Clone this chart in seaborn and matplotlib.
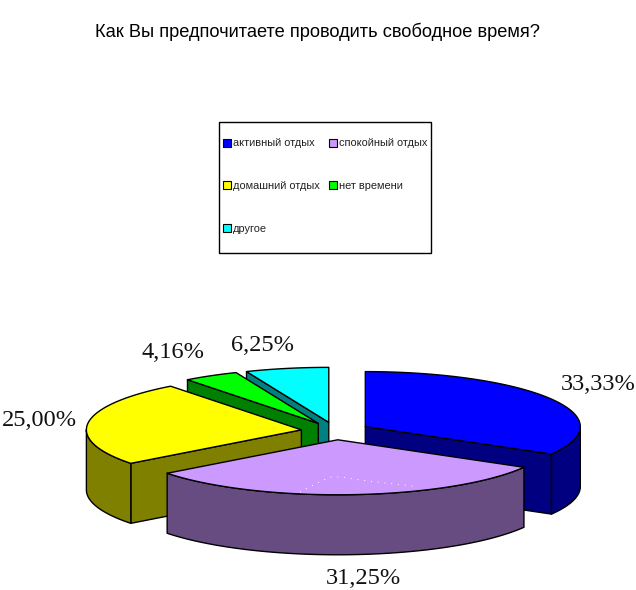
import numpy as np
import matplotlib
matplotlib.use("Agg")
import matplotlib.pyplot as plt
from matplotlib.patches import Patch, Polygon, Rectangle
import seaborn as sns

title = "Как Вы предпочитаете проводить свободное время?"
categories = ["активный отдых", "спокойный отдых", "домашний отдых", "нет времени", "другое"]
values = [33.33, 31.25, 25.00, 4.16, 6.25]
top_colors = ["#0000FF", "#CC99FF", "#FFFF00", "#00FF00", "#00FFFF"]
side_colors = ["#000080", "#664C80", "#808000", "#008000", "#008080"]

# pie layout in pixels
CX, CY = 335.5, 431
RX, RY = 215, 55
DEPTH = 60
EXPLODE = 0.16
# label centres, same order as categories
label_pos = [(598.5, 384), (363.5, 578), (39.5, 420), (172.5, 352.5), (262.5, 345.5)]
draw_order = [4, 3, 2, 0, 1]
# faint dotted trace left on the purple slice in the original
trace_x = [300, 315, 330, 343, 360, 377, 395, 413]
trace_y = [492, 484, 477, 477, 480, 482, 484, 486]


def rim(cx, cy, a, b, dy=0):
    t = np.radians(np.linspace(a, b, max(int(abs(b - a)) * 2, 2)))
    return np.column_stack([cx + RX * np.sin(t), cy - RY * np.cos(t) + dy])


def draw_slice(ax, start, end, top, side):
    mid = np.radians((start + end) / 2)
    cx = CX + EXPLODE * RX * np.sin(mid)
    cy = CY - EXPLODE * RY * np.cos(mid)
    kw = dict(edgecolor="black", linewidth=1, joinstyle="round")

    # radial walls facing the viewer
    for ang, visible in [(start, np.sin(np.radians(start)) < -1e-6), (end, np.sin(np.radians(end)) > 1e-6)]:
        if visible:
            p = rim(cx, cy, ang, ang)[0]
            wall = [(cx, cy), p, (p[0], p[1] + DEPTH), (cx, cy + DEPTH)]
            ax.add_patch(Polygon(wall, facecolor=side, **kw))

    # outer wall, front half only
    a, b = max(start, 90), min(end, 270)
    if b > a:
        upper = rim(cx, cy, a, b)
        lower = rim(cx, cy, a, b, DEPTH)[::-1]
        ax.add_patch(Polygon(np.vstack([upper, lower]), facecolor=side, **kw))

    pts = np.vstack([[(cx, cy)], rim(cx, cy, start, end)])
    ax.add_patch(Polygon(pts, facecolor=top, **kw))


sns.set_theme(style="white")
plt.rcParams["font.family"] = ["Liberation Sans", "DejaVu Sans"]

fig = plt.figure(figsize=(6.36, 5.9), dpi=100)
ax = fig.add_axes([0, 0, 1, 1])
ax.set_xlim(0, 636)
ax.set_ylim(590, 0)
ax.axis("off")

shares = np.array(values) / sum(values) * 360
edges = np.concatenate([[0], np.cumsum(shares)])
palette = sns.color_palette(top_colors)
side_palette = sns.color_palette(side_colors)

for i in draw_order:
    draw_slice(ax, edges[i], edges[i + 1], palette[i], side_palette[i])

ax.plot(trace_x, trace_y, color="white", linewidth=0.7, linestyle=(0, (1, 6)))

for v, (x, y) in zip(values, label_pos):
    ax.text(x, y, f"{v:.2f}%".replace(".", ","), ha="center", va="center",
            family="Liberation Serif", fontsize=17.6, color="#111111")

ax.text(317.5, 31.5, title, ha="center", va="center", fontsize=13.17, color="black")

# legend frame is wider on top than the entries need, so it is drawn apart
ax.add_patch(Rectangle((219, 122), 212, 131, facecolor="white", edgecolor="black", linewidth=1))

# legend fills by column, so feed it column by column
order = [0, 2, 4, 1, 3]
handles = [Patch(facecolor=palette[i], edgecolor="black", linewidth=0.8, label=categories[i]) for i in order]
leg = fig.legend(handles=handles, ncol=2, loc="upper left", bbox_to_anchor=(223 / 636, 1 - 138.5 / 590),
                 fontsize=7.9, frameon=False, labelspacing=2.98, columnspacing=0.82,
                 handlelength=0.73, handleheight=0.73, handletextpad=0.18,
                 borderpad=0, borderaxespad=0)
for t in leg.get_texts():
    t.set_color("#222222")

fig.savefig("out.png", dpi=100)
